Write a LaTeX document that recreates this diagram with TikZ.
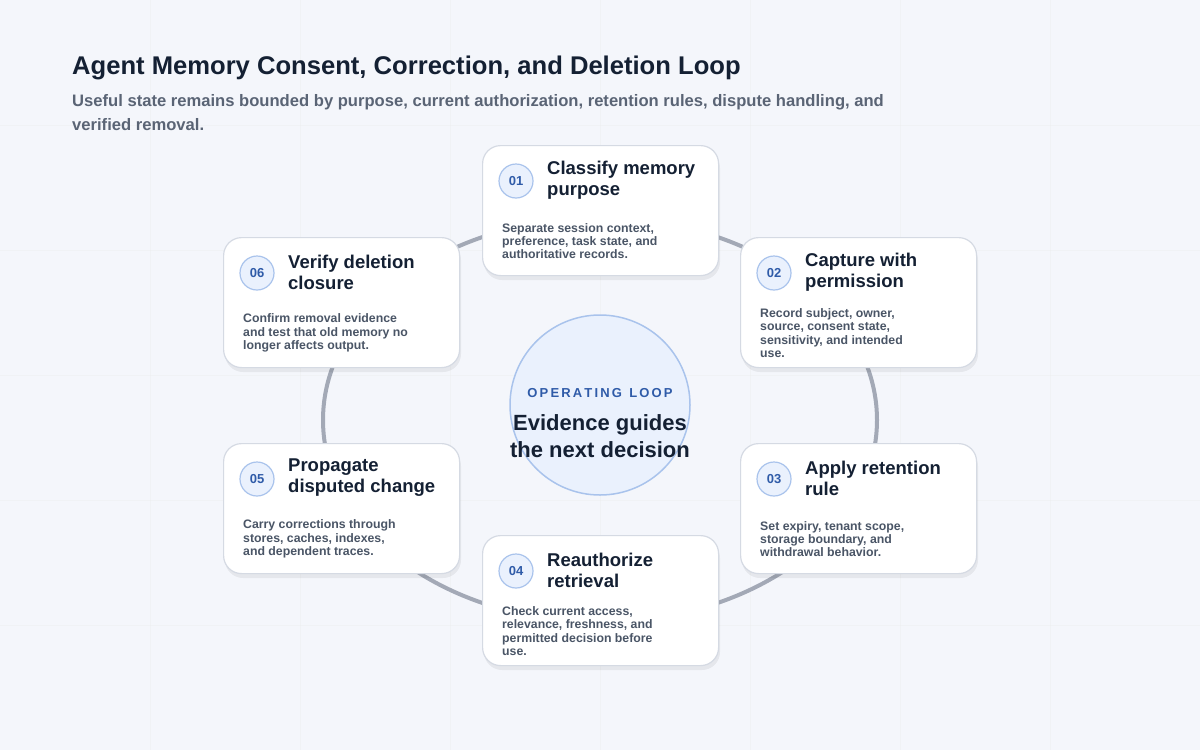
\documentclass[tikz,border=0pt]{standalone}
\usepackage{fontspec}
\setmainfont{Liberation Sans}
\usetikzlibrary{shapes.geometric}
\definecolor{bgcol}{HTML}{F4F6FB}
\definecolor{ink}{HTML}{142033}
\definecolor{subink}{HTML}{5A6475}
\definecolor{bodyink}{HTML}{4A5566}
\definecolor{ringcol}{HTML}{A3A9B6}
\definecolor{accent}{HTML}{2F5BA8}
\definecolor{badgefill}{HTML}{EAF1FD}
\definecolor{badgeline}{HTML}{A9C3EC}
\definecolor{cardline}{HTML}{D5DAE3}
\newcommand{\stepcard}[6]{%
  \fill[black, opacity=0.06, rounded corners=18pt] (#2+2,#3+5) rectangle ++(236,130);
  \node[card] (#1) at (#2,#3) {};
  \node[badge] (#1n) at (#2+34,#3+36) {#4};
  \node[cardtitle] (#1t) at (#2+65,#3+35) {#5};
  \node[cardbody] (#1b) at (#2+20,#3+96) {#6};
}
\begin{document}
\begin{tikzpicture}[x=1pt, y=-1pt,
  card/.style={draw=cardline, line width=1.2pt, fill=white, rounded corners=18pt,
    minimum width=236pt, minimum height=130pt, anchor=north west, inner sep=0pt},
  badge/.style={circle, draw=badgeline, line width=1.2pt, fill=badgefill, minimum size=34pt,
    inner sep=0pt, text=accent, font=\bfseries\fontsize{13}{13}\selectfont},
  cardtitle/.style={anchor=west, align=left, inner sep=0pt, text=ink,
    font=\bfseries\fontsize{18.5}{21}\selectfont},
  cardbody/.style={anchor=west, align=left, inner sep=0pt, text=bodyink,
    font=\bfseries\fontsize{12.3}{13.2}\selectfont}
]
\fill[bgcol] (0,0) rectangle (1200,750);
\useasboundingbox (0,0) rectangle (1200,750);
% faint grid
\foreach \gx in {150,300,...,1050}
  \draw[white!92!black, opacity=0.35, line width=0.6pt] (\gx,0) -- (\gx,750);
\foreach \gy in {125,250,...,625}
  \draw[white!92!black, opacity=0.35, line width=0.6pt] (0,\gy) -- (1200,\gy);

\node[anchor=west, inner sep=0pt, text=ink, font=\bfseries\fontsize{25.6}{30}\selectfont]
  (title) at (72,68) {Agent Memory Consent, Correction, and Deletion Loop};
\node[anchor=north west, align=left, inner sep=0pt, text=subink,
  font=\bfseries\fontsize{16.6}{24}\selectfont] (subtitle) at (72,94)
  {Useful state remains bounded by purpose, current authorization, retention rules, dispute handling, and\\verified removal.};

% loop ring
\node[ellipse, draw=ringcol, line width=4pt, minimum width=554pt, minimum height=404pt, inner sep=0pt] (ring) at (600,420) {};

% hub
\node[circle, draw=badgeline, line width=1.5pt, fill=badgefill, minimum size=180pt, inner sep=0pt] (hub) at (600,405) {};
\node[text=accent, font=\bfseries\fontsize{13}{13}\selectfont] (hublabel) at (600,393) {O\,P\,E\,R\,A\,T\,I\,N\,G\ \ L\,O\,O\,P};
\node[align=center, text=ink, font=\bfseries\fontsize{22}{27}\selectfont] (hubtext) at (600,436)
  {Evidence guides\\the next decision};

\stepcard{purpose}{482}{145}{01}{Classify memory\\purpose}{Separate session context,\\preference, task state, and\\authoritative records.}
\stepcard{capture}{740}{237}{02}{Capture with\\permission}{Record subject, owner,\\source, consent state,\\sensitivity, and intended\\use.}
\stepcard{retain}{740}{443}{03}{Apply retention\\rule}{Set expiry, tenant scope,\\storage boundary, and\\withdrawal behavior.}
\stepcard{reauth}{482}{535}{04}{Reauthorize\\retrieval}{Check current access,\\relevance, freshness, and\\permitted decision before\\use.}
\stepcard{propagate}{223}{443}{05}{Propagate\\disputed change}{Carry corrections through\\stores, caches, indexes,\\and dependent traces.}
\stepcard{verify}{223}{237}{06}{Verify deletion\\closure}{Confirm removal evidence\\and test that old memory no\\longer affects output.}
\end{tikzpicture}
\end{document}
